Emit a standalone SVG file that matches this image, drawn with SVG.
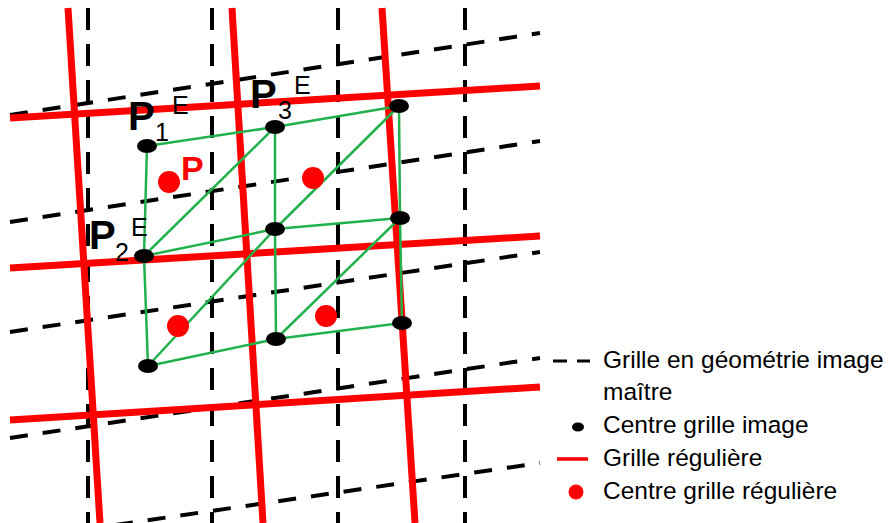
<svg xmlns="http://www.w3.org/2000/svg" width="890" height="523" viewBox="0 0 890 523">
<style>
.red{stroke:#ff0000;stroke-width:7;fill:none}
.dv{stroke:#000;stroke-width:4;stroke-dasharray:22 14;fill:none}
.dh{stroke:#000;stroke-width:4;stroke-dasharray:18 15;fill:none}
.gr{stroke:#22b14c;stroke-width:2.5;fill:none}
.pt{fill:#000}
.rp{fill:#ff0000}
.lbl{font-family:"Liberation Sans",Arial,sans-serif;fill:#000}
.big{font-size:40px;font-weight:bold}
.sub{font-size:25px}
.leg{font-family:"Liberation Sans",Arial,sans-serif;font-size:24.5px;fill:#000}
</style>
<rect width="890" height="523" fill="#fff"/>
<g id="grids">
<g id="image-grid">
<line class="dv" x1="88" y1="8" x2="88" y2="523"/>
<line class="dv" x1="212" y1="8" x2="212" y2="523"/>
<line class="dv" x1="338" y1="8" x2="338" y2="523"/>
<line class="dv" x1="465" y1="8" x2="465" y2="523"/>
<line class="dh" x1="10" y1="115" x2="540" y2="33"/>
<line class="dh" x1="10" y1="222" x2="540" y2="141"/>
<line class="dh" x1="10" y1="332" x2="540" y2="252"/>
<line class="dh" x1="10" y1="438" x2="540" y2="358"/>
<line class="dh" x1="115" y1="525" x2="540" y2="463"/>
</g>
<g id="regular-grid">
<line class="red" x1="68" y1="8" x2="100" y2="523"/>
<line class="red" x1="232" y1="8" x2="263" y2="523"/>
<line class="red" x1="382" y1="8" x2="415" y2="523"/>
<line class="red" x1="10" y1="118" x2="540" y2="86"/>
<line class="red" x1="10" y1="268" x2="540" y2="236"/>
<line class="red" x1="10" y1="420" x2="540" y2="387"/>
</g>
</g>
<g id="connectors">
<polyline class="gr" points="147,146 275,127 399,106"/>
<polyline class="gr" points="144,256 275,229 400,218"/>
<polyline class="gr" points="148,366 276,339 402,323"/>
<polyline class="gr" points="147,146 144,256 148,366"/>
<polyline class="gr" points="275,127 275,229 276,339"/>
<polyline class="gr" points="399,106 400,218 402,323"/>
<line class="gr" x1="144" y1="256" x2="275" y2="127"/>
<line class="gr" x1="275" y1="229" x2="399" y2="106"/>
<line class="gr" x1="148" y1="366" x2="275" y2="229"/>
<line class="gr" x1="276" y1="339" x2="400" y2="218"/>
</g>
<g id="image-centres">
<ellipse class="pt" cx="147" cy="146" rx="10" ry="7"/>
<ellipse class="pt" cx="275" cy="127" rx="10" ry="7"/>
<ellipse class="pt" cx="399" cy="106" rx="10" ry="7"/>
<ellipse class="pt" cx="144" cy="256" rx="10" ry="7"/>
<ellipse class="pt" cx="275" cy="229" rx="10" ry="7"/>
<ellipse class="pt" cx="400" cy="218" rx="10" ry="7"/>
<ellipse class="pt" cx="148" cy="366" rx="10" ry="7"/>
<ellipse class="pt" cx="276" cy="339" rx="10" ry="7"/>
<ellipse class="pt" cx="402" cy="323" rx="10" ry="7"/>
</g>
<g id="regular-centres">
<circle class="rp" cx="169" cy="182" r="11"/>
<circle class="rp" cx="313" cy="178" r="11"/>
<circle class="rp" cx="178" cy="326" r="11"/>
<circle class="rp" cx="326" cy="316" r="11"/>
</g>
<g id="label-P1">
<text class="lbl big" x="128" y="130">P</text>
<text class="lbl sub" x="155" y="141">1</text>
<text class="lbl sub" x="172" y="114">E</text>
</g>
<g id="label-P3">
<text class="lbl big" x="250" y="108">P</text>
<text class="lbl sub" x="278" y="119">3</text>
<text class="lbl sub" x="294" y="94">E</text>
</g>
<g id="label-P2">
<text class="lbl big" x="89" y="249">P</text>
<text class="lbl sub" x="115" y="261">2</text>
<text class="lbl sub" x="131" y="236">E</text>
</g>
<g id="label-P">
<text x="181" y="180" font-family="Liberation Sans, Arial, sans-serif" font-size="34" font-weight="bold" fill="#ff0000">P</text>
</g>
<g id="legend">
<line x1="553" y1="361" x2="567" y2="361" stroke="#000" stroke-width="3"/>
<line x1="577" y1="361" x2="590" y2="361" stroke="#000" stroke-width="3"/>
<text class="leg" x="603" y="368">Grille en géométrie image</text>
<text class="leg" x="603" y="400">maître</text>
<ellipse class="pt" cx="578" cy="427" rx="6" ry="4.5"/>
<text class="leg" x="603" y="433">Centre grille image</text>
<line x1="557" y1="459" x2="588" y2="459" stroke="#ff0000" stroke-width="3.5"/>
<text class="leg" x="603" y="466">Grille régulière</text>
<circle class="rp" cx="576" cy="492" r="7.5"/>
<text class="leg" x="603" y="499">Centre grille régulière</text>
</g>
</svg>
